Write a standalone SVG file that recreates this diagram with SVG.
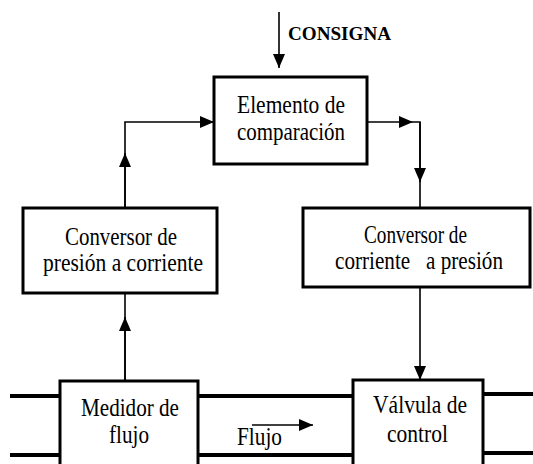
<svg xmlns="http://www.w3.org/2000/svg" width="533" height="464" viewBox="0 0 533 464">
<defs>
<marker id="ah" viewBox="0 0 14 12" refX="14" refY="6" markerWidth="14" markerHeight="12" markerUnits="userSpaceOnUse" orient="auto">
<path d="M0,0 L14,6 L0,12 Z" fill="#000"/>
</marker>
</defs>
<style>
.box{fill:#fff;stroke:#000;stroke-width:3}
text{font-family:"Liberation Serif","Times New Roman","DejaVu Serif",serif;fill:#000}
.t{font-size:25px;white-space:pre}
.b{font-size:18.5px;font-weight:bold}
.c{fill:none;stroke:#000;stroke-width:1.6}
.pipe{fill:none;stroke:#000;stroke-width:4}
</style>
<rect width="533" height="464" fill="#fff"/>
<g id="pipes">
<line class="pipe" x1="10" y1="396" x2="60" y2="396"/>
<line class="pipe" x1="10" y1="455" x2="60" y2="455"/>
<line class="pipe" x1="198" y1="396" x2="353" y2="396"/>
<line class="pipe" x1="198" y1="455" x2="353" y2="455"/>
<line class="pipe" x1="483" y1="394" x2="533" y2="394"/>
<line class="pipe" x1="483" y1="453" x2="533" y2="453"/>
</g>
<g id="connectors">
<line class="c" x1="279" y1="12" x2="279" y2="68" marker-end="url(#ah)"/>
<polyline class="c" points="125,208 125,122 214,122" marker-end="url(#ah)"/>
<line class="c" x1="125" y1="208" x2="125" y2="153" marker-end="url(#ah)"/>
<line class="c" x1="367" y1="122" x2="413" y2="122" marker-end="url(#ah)"/>
<polyline class="c" points="413,122 420,122 420,208"/>
<line class="c" x1="420" y1="122" x2="420" y2="182" marker-end="url(#ah)"/>
<line class="c" x1="420" y1="287" x2="420" y2="380" marker-end="url(#ah)"/>
<line class="c" x1="125" y1="381" x2="125" y2="293"/>
<line class="c" x1="125" y1="381" x2="125" y2="317" marker-end="url(#ah)"/>
<line class="c" x1="252" y1="425" x2="313" y2="425" marker-end="url(#ah)"/>
</g>
<g id="consigna">
<text class="b" x="288" y="40" textLength="103" lengthAdjust="spacingAndGlyphs">CONSIGNA</text>
</g>
<g id="elemento">
<rect class="box" x="214" y="77" width="153" height="87"/>
<text class="t" x="237" y="113" textLength="108" lengthAdjust="spacingAndGlyphs">Elemento de</text>
<text class="t" x="237" y="140" textLength="108" lengthAdjust="spacingAndGlyphs">comparación</text>
</g>
<g id="conv-pi">
<rect class="box" x="23" y="208" width="194" height="85"/>
<text class="t" x="65" y="245" textLength="112" lengthAdjust="spacingAndGlyphs">Conversor de</text>
<text class="t" x="43" y="271" textLength="160" lengthAdjust="spacingAndGlyphs">presión a corriente</text>
</g>
<g id="conv-ip">
<rect class="box" x="303" y="208" width="227" height="79"/>
<text class="t" x="364" y="243" textLength="103" lengthAdjust="spacingAndGlyphs">Conversor de</text>
<text class="t" x="335" y="269" textLength="168" lengthAdjust="spacingAndGlyphs">corriente   a presión</text>
</g>
<g id="medidor">
<rect class="box" x="60" y="381" width="138" height="95"/>
<text class="t" x="81" y="416" textLength="98" lengthAdjust="spacingAndGlyphs">Medidor de</text>
<text class="t" x="109" y="443" textLength="40" lengthAdjust="spacingAndGlyphs">flujo</text>
</g>
<g id="valvula">
<rect class="box" x="353" y="380" width="130" height="96"/>
<text class="t" x="373" y="413" textLength="94" lengthAdjust="spacingAndGlyphs">Válvula de</text>
<text class="t" x="387" y="442" textLength="61" lengthAdjust="spacingAndGlyphs">control</text>
</g>
<g id="flujo">
<text class="t" x="237" y="445" textLength="45" lengthAdjust="spacingAndGlyphs">Flujo</text>
</g>
</svg>
